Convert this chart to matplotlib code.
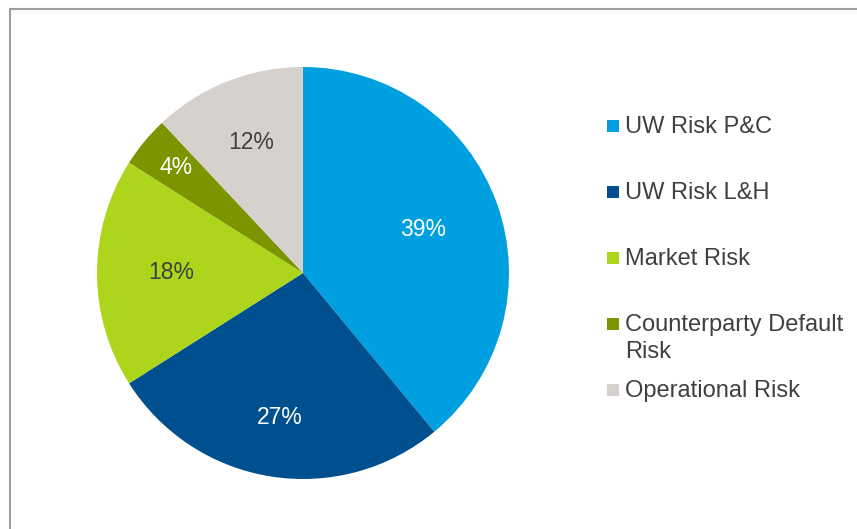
import numpy as np
import matplotlib
matplotlib.use("Agg")
import matplotlib.pyplot as plt
from matplotlib.patches import Rectangle

plt.rcParams["font.family"] = ["Liberation Sans", "DejaVu Sans"]

labels = ["UW Risk P&C", "UW Risk L&H", "Market Risk", "Counterparty Default\nRisk", "Operational Risk"]
shares = [39, 27, 18, 4, 12]
colors = ["#009fdf", "#00508f", "#add51b", "#7b9400", "#d6d1cc"]
text_colors = ["white", "white", "#404040", "white", "#404040"]
label_dist = [0.62, 0.71, 0.64, 0.80, 0.68]

W, H = 857, 529
fig = plt.figure(figsize=(W / 100, H / 100), dpi=100)

# pie placed so its centre sits at (303, 273) px with a radius of ~206 px
cx, cy, r = 303, 273, 206
lim = 1.02
ax = fig.add_axes([(cx - r * lim) / W, (H - cy - r * lim) / H, 2 * r * lim / W, 2 * r * lim / H])
wedges, _ = ax.pie(shares, colors=colors, startangle=90, counterclock=False,
                   wedgeprops=dict(linewidth=0))
ax.set_xlim(-lim, lim)
ax.set_ylim(-lim, lim)
ax.set_aspect("equal")
ax.axis("off")

for w, s, tc, d in zip(wedges, shares, text_colors, label_dist):
    mid = np.deg2rad((w.theta1 + w.theta2) / 2)
    ax.text(d * np.cos(mid), d * np.sin(mid), f"{s}%", ha="center", va="center",
            fontsize=16.5, color=tc)

# legend drawn by hand so the wrapped entry keeps even spacing
for i, (lab, col) in enumerate(zip(labels, colors)):
    base = 133 + i * 66
    fig.add_artist(Rectangle((607 / W, 1 - (base - 1) / H), 12 / W, 12 / H,
                             transform=fig.transFigure, facecolor=col, edgecolor="none"))
    for j, line in enumerate(lab.split("\n")):
        fig.text(625 / W, 1 - (base + 27 * j) / H, line, ha="left", va="baseline",
                 fontsize=17, color="#404040")

# chart frame, only top and left edges fall inside the image
fig.add_artist(Rectangle((10 / W, -0.1), 1.2, 1 - 9 / H + 0.1, transform=fig.transFigure,
                         facecolor="none", edgecolor="#a0a0a0", linewidth=1.5))

fig.savefig("out.png", dpi=100)
